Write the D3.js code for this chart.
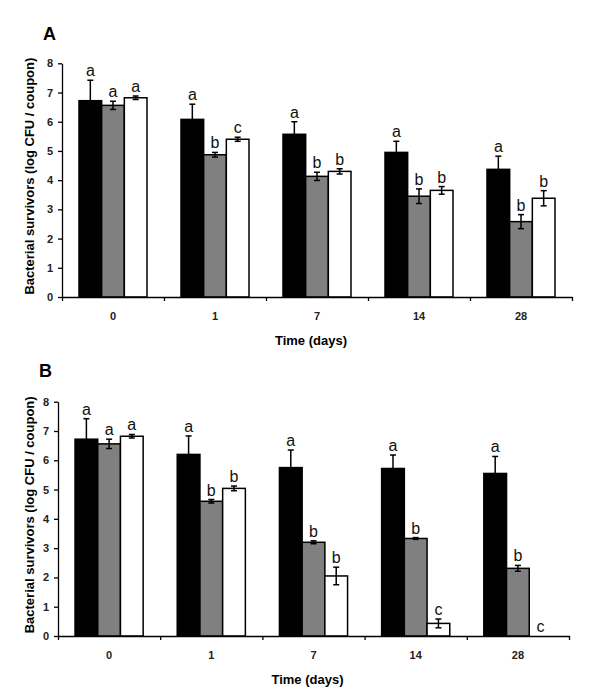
<!DOCTYPE html>
<html>
<head>
<meta charset="utf-8">
<script src="https://cdn.jsdelivr.net/npm/d3@7"></script>
<style>
  body { margin: 0; background: #fff; }
  svg text { font-family: Arial, "Liberation Sans", sans-serif; }
</style>
</head>
<body>
<div id="chart"></div>
<script>
// time points (days)
var days = ["0", "1", "7", "14", "28"];
var series = ["black", "gray", "white"];

// panel A values (log CFU / coupon)
var aBlack = [6.72, 6.08, 5.57, 4.95, 4.37];
var aBlackErr = [0.7, 0.52, 0.43, 0.38, 0.45];
var aGray = [6.56, 4.87, 4.13, 3.45, 2.58];
var aGrayErr = [0.14, 0.08, 0.14, 0.25, 0.24];
var aWhite = [6.82, 5.4, 4.3, 3.65, 3.38];
var aWhiteErr = [0.06, 0.07, 0.09, 0.13, 0.26];
var aLetters = [["a", "a", "a"], ["a", "b", "c"], ["a", "b", "b"], ["a", "b", "b"], ["a", "b", "b"]];

// panel B values
var bBlack = [6.72, 6.2, 5.75, 5.72, 5.55];
var bBlackErr = [0.7, 0.63, 0.6, 0.46, 0.58];
var bGray = [6.56, 4.6, 3.2, 3.33, 2.31];
var bGrayErr = [0.16, 0.06, 0.05, 0.03, 0.1];
var bWhite = [6.82, 5.04, 2.05, 0.43, 0];
var bWhiteErr = [0.06, 0.08, 0.3, 0.15, 0];
var bLetters = [["a", "a", "a"], ["a", "b", "b"], ["a", "b", "b"], ["a", "b", "c"], ["a", "b", "c"]];

var yTicks = [0, 1, 2, 3, 4, 5, 6, 7, 8];

var fills = { black: "#000000", gray: "#808080", white: "#ffffff" };

var svg = d3.select("#chart")
    .append("svg")
    .attr("width", 600)
    .attr("height", 694);

// build rows for one panel
function makeRows(black, blackErr, gray, grayErr, white, whiteErr, letters) {
    var vals = [black, gray, white];
    var errs = [blackErr, grayErr, whiteErr];
    var rows = [];
    days.forEach(function (d, i) {
        series.forEach(function (s, j) {
            rows.push({ day: d, key: s, value: vals[j][i], err: errs[j][i], letter: letters[i][j] });
        });
    });
    return rows;
}

function drawPanel(rows, opt) {
    var width = opt.right - opt.left;
    var height = opt.bottom - opt.top;

    var g = svg.append("g")
        .attr("transform", `translate(${opt.left}, ${opt.top})`);

    var x = d3.scaleBand()
        .domain(days)
        .range([0, width])
        .paddingInner(1 / 3)
        .paddingOuter(1 / 6);

    var xSub = d3.scaleBand()
        .domain(series)
        .range([0, x.bandwidth()]);

    var y = d3.scaleLinear()
        .domain([0, 8])
        .range([height, 0]);

    // bars
    g.selectAll("rect.bar")
        .data(rows)
        .enter()
        .append("rect")
        .attr("class", "bar")
        .attr("x", d => x(d.day) + xSub(d.key))
        .attr("y", d => y(d.value))
        .attr("width", xSub.bandwidth())
        .attr("height", d => height - y(d.value))
        .attr("fill", d => fills[d.key])
        .attr("stroke", "#000")
        .attr("stroke-width", d => d.value > 0 ? 1.5 : 0);

    // error bars
    var withErr = rows.filter(d => d.err > 0);
    var eb = g.selectAll("g.err")
        .data(withErr)
        .enter()
        .append("g")
        .attr("class", "err")
        .attr("stroke", "#000")
        .attr("stroke-width", 1.5);

    var cx = d => x(d.day) + xSub(d.key) + xSub.bandwidth() / 2;

    eb.append("line")
        .attr("x1", cx).attr("x2", cx)
        .attr("y1", d => y(d.value - d.err))
        .attr("y2", d => y(d.value + d.err));
    eb.append("line")
        .attr("x1", d => cx(d) - 3).attr("x2", d => cx(d) + 3)
        .attr("y1", d => y(d.value + d.err))
        .attr("y2", d => y(d.value + d.err));
    eb.filter(d => d.key !== "black")
        .append("line")
        .attr("x1", d => cx(d) - 3).attr("x2", d => cx(d) + 3)
        .attr("y1", d => y(d.value - d.err))
        .attr("y2", d => y(d.value - d.err));

    // significance letters
    g.selectAll("text.letter")
        .data(rows)
        .enter()
        .append("text")
        .attr("class", "letter")
        .attr("x", cx)
        .attr("y", d => y(d.value + d.err) - 4)
        .attr("text-anchor", "middle")
        .attr("font-size", 16)
        .attr("fill", "#111")
        .text(d => d.letter);

    // y axis
    var leftAxis = d3.axisLeft(y)
        .tickValues(yTicks)
        .tickSize(4)
        .tickSizeOuter(0)
        .tickPadding(5);
    var ya = g.append("g").call(leftAxis);
    ya.select(".domain").attr("stroke-width", 1.3);
    ya.selectAll("line").attr("stroke-width", 1.3);
    ya.selectAll("text")
        .attr("font-size", 11)
        .attr("font-weight", "bold")
        .attr("fill", "#222");

    // x axis: tick marks at band boundaries, labels at band centres
    var xb = d3.scaleLinear().domain([0, days.length]).range([0, width]);
    var xa = g.append("g")
        .attr("transform", `translate(0, ${height})`)
        .call(d3.axisBottom(xb).tickValues(d3.range(days.length + 1)).tickSize(4).tickSizeOuter(0).tickFormat(""));
    xa.select(".domain").attr("stroke-width", 1.3);
    xa.selectAll("line").attr("stroke-width", 1.3);

    g.selectAll("text.day")
        .data(days)
        .enter()
        .append("text")
        .attr("class", "day")
        .attr("x", d => x(d) + x.bandwidth() / 2)
        .attr("y", height + 23)
        .attr("text-anchor", "middle")
        .attr("font-size", 11)
        .attr("font-weight", "bold")
        .attr("fill", "#222")
        .text(d => d);

    // axis titles
    g.append("text")
        .attr("x", width / 2 - 6)
        .attr("y", height + 48)
        .attr("text-anchor", "middle")
        .attr("font-size", 13)
        .attr("font-weight", "bold")
        .text("Time (days)");

    g.append("text")
        .attr("transform", "rotate(-90)")
        .attr("x", -(height / 2) + 4)
        .attr("y", opt.ylabelX - opt.left)
        .attr("text-anchor", "middle")
        .attr("font-size", 13)
        .attr("font-weight", "bold")
        .text("Bacterial survivors (log CFU / coupon)");

    // panel letter
    svg.append("text")
        .attr("x", opt.left - 19)
        .attr("y", opt.panelY)
        .attr("font-size", 18)
        .attr("font-weight", "bold")
        .text(opt.name);
}

drawPanel(makeRows(aBlack, aBlackErr, aGray, aGrayErr, aWhite, aWhiteErr, aLetters),
    { name: "A", left: 62, right: 572, top: 63.3, bottom: 297, ylabelX: 34, panelY: 40 });

drawPanel(makeRows(bBlack, bBlackErr, bGray, bGrayErr, bWhite, bWhiteErr, bLetters),
    { name: "B", left: 58, right: 569, top: 401.7, bottom: 636, ylabelX: 34, panelY: 377 });
</script>
</body>
</html>
